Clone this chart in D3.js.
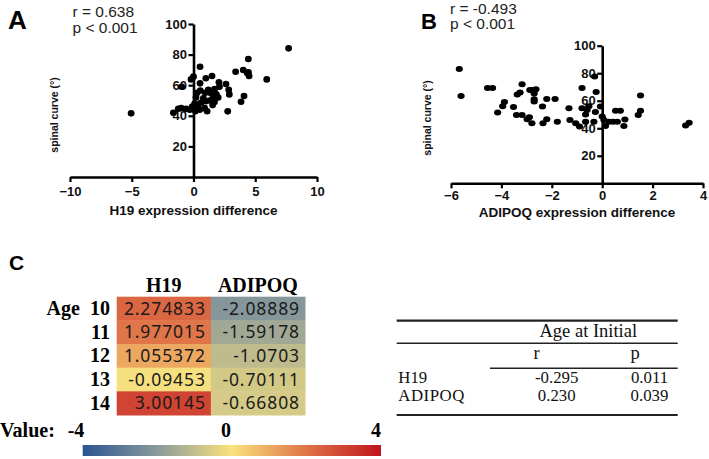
<!DOCTYPE html>
<html><head><meta charset="utf-8">
<script src="https://cdn.jsdelivr.net/npm/d3@7"></script>
<style>
html,body{margin:0;padding:0;background:#fff;}
svg{display:block;}
</style></head>
<body>
<svg id="chart" width="709" height="459"></svg>
<script>
// ---------- DATA ----------
const h19X = [7.7,-5.05,4.44,5.93,3.41,4.03,4.35,4.5,4.45,4.09,3.85,2.77,2.63,2.85,2.9,0.53,0.0,-0.2,-0.96,-1.63,-1.23,-1.0,-0.6,-0.3,0.15,0.53,1.0,1.5,2.06,2.1,1.7,1.35,0.95,0.55,0.3,1.85,2.0,1.7,1.55,1.0,0.6,0.35,0.5,0.9,1.1,1.55,1.3,0.8,0.1,0.2,1.2,1.6,-0.1];
const h19Y = [84.1,41.6,77.1,63.8,68.8,69.9,68,66,68.5,52.9,49.2,42.9,60.8,57,54,72.1,65.6,63.8,59,42,44.6,45,44.5,44,43,61.2,64.5,66,61.9,59,57.5,55,55,56.5,55,54,52,49,47,49.5,48.5,46,44,45,43,51,50,51.5,48,52,57,53,46];
const adiX = [-5.67,-5.6,-4.55,-4.35,-4.15,-3.95,-3.88,-3.52,-3.4,-3.18,-3.37,-3.26,-3.18,-2.98,-2.89,-2.79,-2.87,-2.76,-2.63,-2.7,-2.7,-2.7,-2.35,-2.37,-2.2,-2.2,-1.87,-1.78,-1.32,-1.28,-1.05,-0.9,-0.8,-0.8,-0.66,-0.6,-0.53,-0.66,-0.3,-0.24,-0.27,-0.33,-0.07,0.0,0.07,0.13,0.27,0.43,0.6,0.53,0.72,0.86,0.9,1.43,1.52,1.52,3.31,3.45];
const adiY = [83,63.5,69.3,69.3,51.4,56,59,55.5,49.6,49.6,64.5,66,72,46.5,48,43.7,67.8,67.8,68.4,65.3,61,59.5,43.7,55.8,46.5,61.3,61.3,44.8,54.5,46,43.7,41.3,69.2,54.5,44.8,53.3,56,50,77.6,66.4,51.9,44.8,55.8,48.5,46,41.6,44.8,44.8,44.8,52.7,52.7,41.6,46.4,49.6,52.7,63.8,42,44];
const yTicks = [20,40,60,80,100];
const h19Ticks = [-10,-5,0,5,10];
const adiTicks = [-6,-4,-2,0,2,4];

const ages = ["10","11","12","13","14"];
const genes = ["H19","ADIPOQ"];
const h19Vals = [2.274833,1.977015,1.055372,-0.09453,3.00145];
const adiVals = [-2.08889,-1.59178,-1.0703,-0.70111,-0.66808];
const cbTicks = [-4,0,4];
const colorStops = [-4,-2,0,2,4];
const colorRange = ["#2a5592","#8a9a9c","#fae27c","#df7448","#c0141c"];

const tblRows = ["H19","ADIPOQ"];
const tblR = ["-0.295","0.230"];
const tblP = ["0.011","0.039"];

// ---------- DRAW ----------
const svg = d3.select("#chart");
const sans = "'Liberation Sans', Arial, sans-serif";
const serif = "'Liberation Serif', 'Times New Roman', serif";

function scatter(opt){
  const x = d3.scaleLinear().domain(opt.xd).range(opt.xr);
  const y = d3.scaleLinear().domain([0,100]).range(opt.yr);
  const g = svg.append("g");
  const x0 = x(0);
  const xa = g.append("g").attr("transform",`translate(0,${opt.yr[0]})`)
    .call(d3.axisBottom(x).tickValues(opt.xt).tickSize(5).tickSizeOuter(0).tickPadding(opt.xpad).tickFormat(d3.format("d")));
  const ya = g.append("g").attr("transform",`translate(${x0},0)`)
    .call(d3.axisLeft(y).tickValues(yTicks).tickSize(5).tickSizeOuter(0).tickPadding(1.5));
  [xa,ya].forEach(a=>{
    a.select(".domain").attr("stroke","#000").attr("stroke-width",2.6);
    a.selectAll(".tick line").attr("stroke","#000").attr("stroke-width",2.2);
    a.selectAll("text").attr("fill","#111").style("font-family",sans).style("font-weight","bold").style("font-size","13px");
  });
  g.selectAll("ellipse").data(opt.xs).enter().append("ellipse")
    .attr("cx",(d)=>x(d)).attr("cy",(d,i)=>y(opt.ys[i]))
    .attr("rx",opt.rx).attr("ry",opt.ry).attr("fill","#000");
  g.append("text").attr("x",(opt.xr[0]+opt.xr[1])/2).attr("y",opt.titleY)
    .attr("text-anchor","middle").style("font-family",sans).style("font-weight","bold").style("font-size","13.5px").attr("fill","#111")
    .text(opt.title);
  g.append("text").attr("transform",`translate(${opt.ytX},${opt.ytY}) rotate(-90)`)
    .attr("text-anchor","middle").style("font-family",sans).style("font-weight","bold").style("font-size","10.5px").attr("fill","#111")
    .text("spinal curve (°)");
  g.append("text").attr("x",opt.lx).attr("y",opt.ly).style("font-family",sans).style("font-weight","bold").style("font-size",opt.lfs).text(opt.label);
  g.append("text").attr("x",opt.sx).attr("y",opt.sy1).style("font-family",sans).style("font-size","15.5px").attr("fill","#222").text(opt.rtxt);
  g.append("text").attr("x",opt.sx).attr("y",opt.sy2).style("font-family",sans).style("font-size","15.5px").attr("fill","#222").text("p < 0.001");
}

scatter({xd:[-10,10], xr:[70,317], yr:[177,24], xt:h19Ticks, xpad:4.5, xs:h19X, ys:h19Y, rx:3.4, ry:3.3,
  title:"H19 expression difference", titleY:215, ytX:58, ytY:115,
  label:"A", lx:8, ly:29, lfs:"26px", rtxt:"r = 0.638", sx:72.5, sy1:16.7, sy2:33.3});
scatter({xd:[-6,4], xr:[451,703], yr:[183.3,45.7], xt:adiTicks, xpad:2.5, xs:adiX, ys:adiY, rx:3.6, ry:3.0,
  title:"ADIPOQ expression difference", titleY:216.5, ytX:431, ytY:118,
  label:"B", lx:421, ly:29.3, lfs:"22px", rtxt:"r = -0.493", sx:450, sy1:13.5, sy2:29});

// ---------- Panel C: heatmap ----------
const color = d3.scaleLinear().domain(colorStops).range(colorRange).interpolate(d3.interpolateRgb);
svg.append("text").attr("x",9).attr("y",270).style("font-family",sans).style("font-weight","bold").style("font-size","21px").text("C");

const hx = d3.scaleBand().domain(genes).range([116.7,305]);
const hy = d3.scaleBand().domain(ages).range([296.7,415]);
const hm = svg.append("g");
const cells = [];
ages.forEach((a,i)=>{ cells.push({g:"H19",a:a,v:h19Vals[i]}); cells.push({g:"ADIPOQ",a:a,v:adiVals[i]}); });
hm.selectAll("rect").data(cells).enter().append("rect")
  .attr("x",d=>hx(d.g)).attr("y",d=>hy(d.a)).attr("width",hx.bandwidth()+0.5).attr("height",hy.bandwidth()+0.5)
  .attr("fill",d=>color(d.v));
hm.selectAll("text.v").data(cells).enter().append("text").attr("class","v")
  .attr("x",d=>hx(d.g)+hx.bandwidth()-5).attr("y",d=>hy(d.a)+hy.bandwidth()/2+6.3)
  .attr("text-anchor","end").style("font-family","'Noto Sans', Arial, sans-serif").style("font-size","17.5px")
  .style("letter-spacing","0.9px").attr("fill","#1a1a1a").text(d=>d.v);
hm.selectAll("text.h").data(genes).enter().append("text").attr("class","h")
  .attr("x",d=>hx(d)+hx.bandwidth()/2).attr("y",291.5).attr("text-anchor","middle")
  .style("font-family",serif).style("font-weight","bold").style("font-size","20px").text(d=>d);
hm.selectAll("text.a").data(ages).enter().append("text").attr("class","a")
  .attr("x",110).attr("y",d=>hy(d)+hy.bandwidth()/2+6.5).attr("text-anchor","end")
  .style("font-family",serif).style("font-weight","bold").style("font-size","20px").text(d=>d);
hm.append("text").attr("x",46.5).attr("y",hy(ages[0])+hy.bandwidth()/2+6.5)
  .style("font-family",serif).style("font-weight","bold").style("font-size","20px").text("Age");

// colorbar
const defs = svg.append("defs");
const grad = defs.append("linearGradient").attr("id","cb").attr("x1","0%").attr("x2","100%");
colorStops.forEach((s,i)=>grad.append("stop").attr("offset",((s+4)/8*100)+"%").attr("stop-color",colorRange[i]));
svg.append("rect").attr("x",82.7).attr("y",445).attr("width",298.3).attr("height",11).attr("fill","url(#cb)");
const cbx = d3.scaleLinear().domain([-4,4]).range([76,376]);
svg.append("text").attr("x",0).attr("y",436.7).style("font-family",serif).style("font-weight","bold").style("font-size","20px").text("Value:");
svg.selectAll("text.cb").data(cbTicks).enter().append("text").attr("class","cb")
  .attr("x",d=>cbx(d)).attr("y",436.7).attr("text-anchor","middle")
  .style("font-family",serif).style("font-weight","bold").style("font-size","20px").text(d=>d);

// ---------- table ----------
const tb = svg.append("g").style("font-family",serif).style("font-size","16.8px").attr("fill","#111");
const L = 396.7, R = 677.7;
tb.append("line").attr("x1",L).attr("x2",R).attr("y1",320.7).attr("y2",320.7).attr("stroke","#222").attr("stroke-width",2.2);
tb.append("line").attr("x1",L).attr("x2",R).attr("y1",343.3).attr("y2",343.3).attr("stroke","#222").attr("stroke-width",1.6);
tb.append("line").attr("x1",490).attr("x2",R).attr("y1",368.3).attr("y2",368.3).attr("stroke","#222").attr("stroke-width",1.6);
tb.append("line").attr("x1",L).attr("x2",R).attr("y1",415).attr("y2",415).attr("stroke","#222").attr("stroke-width",2.2);
tb.append("text").attr("x",588.3).attr("y",336.7).attr("text-anchor","middle").style("font-size","18.5px").text("Age at Initial");
tb.append("text").attr("x",536.7).attr("y",359.3).attr("text-anchor","middle").style("font-size","18.5px").text("r");
tb.append("text").attr("x",635).attr("y",359.3).attr("text-anchor","middle").style("font-size","18.5px").text("p");
const rowY = [382.5,401];
tblRows.forEach((r,i)=>{
  tb.append("text").attr("x",398.3).attr("y",rowY[i]).attr("textLength",i===1?66:null).text(r);
  tb.append("text").attr("x",556.7).attr("y",rowY[i]).attr("text-anchor","middle").text(tblR[i]);
  tb.append("text").attr("x",649.5).attr("y",rowY[i]).attr("text-anchor","middle").text(tblP[i]);
});
</script>
</body></html>
